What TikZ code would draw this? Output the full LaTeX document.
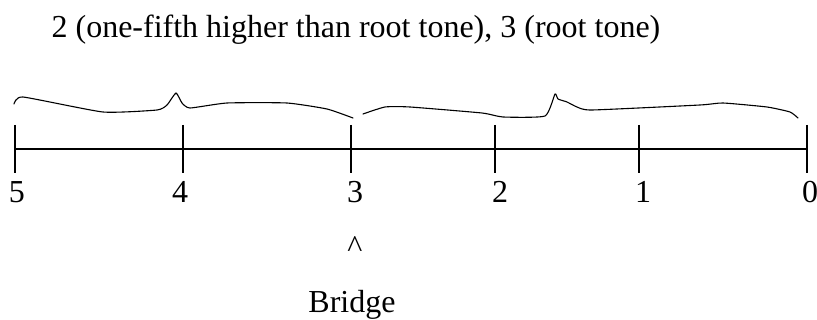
\documentclass[tikz,border=0pt]{standalone}
\usepackage{fontspec}
\setmainfont{Liberation Serif}
\begin{document}
\begin{tikzpicture}[x=1pt,y=-1pt,
  line width=1.2pt,
  lbl/.style={inner sep=0pt,anchor=base,font=\fontsize{32}{38}\selectfont},
  tickmark/.style={line width=1.2pt},
  brace/.style={line width=1.1pt,line join=round,line cap=round}]
  \useasboundingbox (0,0) rectangle (817,320);

  % heading
  \node[lbl,anchor=base west] (head) at (51,38)
    {2 (one-fifth higher than root tone), 3 (root tone)};

  % axis with tick marks
  \foreach \n/\x in {t5/15,t4/183,t3/351,t2/495,t1/639,t0/807}{
    \coordinate (\n top) at (\x,125);
    \coordinate (\n bot) at (\x,173);
    \draw[tickmark] (\n top) -- (\n bot);
  }
  \coordinate (axL) at (15,149);
  \coordinate (axR) at (807,149);
  \draw (axL) -- (axR);

  % tick labels
  \node[lbl] (l5) at (17,203) {5};
  \node[lbl] (l4) at (180,203) {4};
  \node[lbl] (l3) at (355,203) {3};
  \node[lbl] (l2) at (500,203) {2};
  \node[lbl] (l1) at (643,203) {1};
  \node[lbl] (l0) at (810,203) {0};

  % hand-drawn braces over the two spans
  \draw[brace] plot[smooth,tension=0.3] coordinates
    {(14,104) (23,97) (103,112) (157,110) (167,105) (176,93) (182,103)
     (190,108) (227,103) (287,103) (327,109) (353,118)};
  \draw[brace] plot[smooth,tension=0.3] coordinates
    {(363,114) (385,107) (410,107) (482,113) (503,117) (545,116) (555,94)
     (558,99) (567,102) (577,107) (592,110) (700,105) (723,103) (767,107)
     (790,112) (798,118)};

  % bridge marker
  \node[lbl] (caret) at (355,258) {\textasciicircum};
  \node[lbl] (bridge) at (352,313) {Bridge};
\end{tikzpicture}
\end{document}
